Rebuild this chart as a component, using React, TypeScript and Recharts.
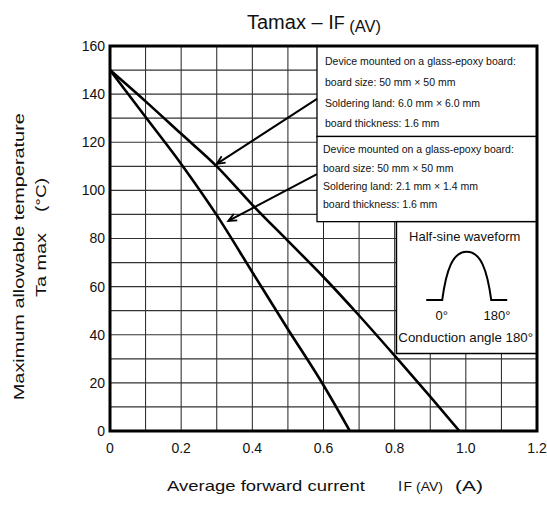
import React from "react";
import {
  LineChart,
  Line,
  XAxis,
  YAxis,
  CartesianGrid,
  ReferenceArea,
  ReferenceLine,
} from "recharts";

// ---- data ----
const currentA = [0, 0.1, 0.2, 0.3, 0.4, 0.5, 0.6, 0.7, 0.8, 0.9, 0.982];
const tempA = [150, 137, 123.5, 110, 94, 79, 64, 48, 31.3, 14.3, 0];
const currentB = [0, 0.1, 0.2, 0.3, 0.4, 0.5, 0.6, 0.674];
const tempB = [150, 130.5, 111, 89.7, 66, 42.3, 19, 0];

const xTicks = [0, 0.1, 0.2, 0.3, 0.4, 0.5, 0.6, 0.7, 0.8, 0.9, 1.0, 1.1, 1.2];
const yTicks = [0, 10, 20, 30, 40, 50, 60, 70, 80, 90, 100, 110, 120, 130, 140, 150, 160];

const noteA = [
  "Device mounted on a glass-epoxy board:",
  "board size: 50 mm \u00d7 50 mm",
  "Soldering land: 6.0 mm \u00d7 6.0 mm",
  "board thickness: 1.6 mm",
];
const noteB = [
  "Device mounted on a glass-epoxy board:",
  "board size: 50 mm \u00d7 50 mm",
  "Soldering land: 2.1 mm \u00d7 1.4 mm",
  "board thickness: 1.6 mm",
];

const seriesA = currentA.map((x, i) => ({ x, y: tempA[i] }));
const seriesB = currentB.map((x, i) => ({ x, y: tempB[i] }));

// annotation anchors (data coordinates)
const box1 = { x1: 0.5817, x2: 1.2, y1: 122.4, y2: 160 };
const box2 = { x1: 0.5817, x2: 1.2, y1: 87.0, y2: 122.4 };
const box3 = { x1: 0.805, x2: 1.2, y1: 32.2, y2: 87.0 };
const arrow1 = [{ x: 0.5817, y: 138 }, { x: 0.3, y: 111 }];
const arrow2 = [{ x: 0.5817, y: 106.8 }, { x: 0.3325, y: 87.3 }];

const FONT = "'Liberation Sans', Arial, Helvetica, sans-serif";

const NoteBox = (lines: string[], dx: number, offsets: number[]) => (props: any) => {
  const { x, y, width, height } = props;
  return (
    <g>
      <rect x={x} y={y} width={width} height={height} fill="#fff" stroke="#000" strokeWidth={1.3} />
      {lines.map((t, i) => (
        <text key={i} x={x + dx} y={y + offsets[i]} fontSize={10.5} fontFamily={FONT} fill="#111">
          {t}
        </text>
      ))}
    </g>
  );
};

const WaveBox = (props: any) => {
  const { x, y, width, height } = props;
  const cx = x + width / 2;
  const base = y + 78.3;
  const peak = y + 30;
  const l = cx - 24.5;
  const r = cx + 24.5;
  const d = `M ${cx - 40.5} ${base} L ${l} ${base} C ${l + 4} ${base - 30}, ${cx - 14} ${peak}, ${cx} ${peak} C ${cx + 14} ${peak}, ${r - 4} ${base - 30}, ${r} ${base} L ${cx + 40.5} ${base}`;
  return (
    <g>
      <rect x={x} y={y} width={width} height={height} fill="#fff" stroke="#000" strokeWidth={1.5} />
      <text x={cx - 2} y={y + 19} textAnchor="middle" fontSize={13} fontFamily={FONT} fill="#111">
        Half-sine waveform
      </text>
      <path d={d} fill="none" stroke="#000" strokeWidth={2} />
      <text x={cx - 25} y={y + 98.3} textAnchor="middle" fontSize={13} fontFamily={FONT} fill="#111">
        0°
      </text>
      <text x={cx + 30.3} y={y + 98.3} textAnchor="middle" fontSize={13} fontFamily={FONT} fill="#111">
        180°
      </text>
      <text x={cx - 1} y={y + 120} textAnchor="middle" fontSize={13.3} fontFamily={FONT} fill="#111">
        Conduction angle 180°
      </text>
    </g>
  );
};

const Arrow = (props: any) => {
  const { x1, y1, x2, y2 } = props;
  const ang = Math.atan2(y1 - y2, x1 - x2);
  const len = 9;
  const spread = 0.42;
  const ax = x2 + len * Math.cos(ang + spread);
  const ay = y2 + len * Math.sin(ang + spread);
  const bx = x2 + len * Math.cos(ang - spread);
  const by = y2 + len * Math.sin(ang - spread);
  return (
    <g>
      <line x1={x1} y1={y1} x2={x2} y2={y2} stroke="#000" strokeWidth={2} />
      <polyline points={`${ax},${ay} ${x2},${y2} ${bx},${by}`} fill="none" stroke="#000" strokeWidth={1.8} />
    </g>
  );
};

const fmtX = (v: number) => {
  const k = Math.round(v * 10);
  if (k % 2 !== 0) return "";
  return k === 0 ? "0" : v.toFixed(1);
};
const fmtY = (v: number) => (Math.round(v) % 20 === 0 ? String(v) : "");

export default function App() {
  return (
    <div style={{ position: "absolute", left: 0, top: 0, width: 547, height: 507, background: "#fff" }}>
      <LineChart
        width={547}
        height={507}
        margin={{ top: 46, right: 10, bottom: 0, left: 0 }}
        style={{ fontFamily: FONT }}
      >
        <CartesianGrid horizontal={false} stroke="#222" strokeWidth={1} />
        <CartesianGrid vertical={false} stroke="#333" strokeWidth={1.2} />
        <XAxis
          type="number"
          dataKey="x"
          domain={[0, 1.2]}
          ticks={xTicks}
          tickFormatter={fmtX}
          interval={0}
          height={76}
          axisLine={false}
          tickLine={false}
          tickSize={6}
          tickMargin={6}
          tick={{ fill: "#111", fontSize: 14, fontFamily: FONT }}
          allowDataOverflow
        />
        <YAxis
          type="number"
          domain={[0, 160]}
          ticks={yTicks}
          tickFormatter={fmtY}
          interval={0}
          width={110}
          axisLine={false}
          tickLine={false}
          tickSize={3}
          tickMargin={2}
          tick={{ fill: "#111", fontSize: 14, fontFamily: FONT }}
          allowDataOverflow
        />
        <ReferenceArea {...box1} shape={NoteBox(noteA, 8, [19, 40, 61, 81])} ifOverflow="visible" />
        <ReferenceArea {...box2} shape={NoteBox(noteB, 6, [16.3, 35.3, 53.7, 72])} ifOverflow="visible" />
        <ReferenceArea {...box3} shape={WaveBox} ifOverflow="visible" />
        <Line
          data={seriesA}
          dataKey="y"
          type="monotone"
          stroke="#000"
          strokeWidth={2.6}
          dot={false}
          isAnimationActive={false}
        />
        <Line
          data={seriesB}
          dataKey="y"
          type="monotone"
          stroke="#000"
          strokeWidth={2.6}
          dot={false}
          isAnimationActive={false}
        />
        <ReferenceLine segment={arrow1} shape={Arrow} ifOverflow="visible" />
        <ReferenceLine segment={arrow2} shape={Arrow} ifOverflow="visible" />
        <ReferenceArea x1={0} x2={1.2} y1={0} y2={160} fill="none" fillOpacity={0} stroke="#000" strokeWidth={3} ifOverflow="visible" />
      </LineChart>
      <svg
        width={547}
        height={507}
        style={{ position: "absolute", left: 0, top: 0, pointerEvents: "none" }}
      >
        <text x={247} y={28.5} fontSize={20} fontFamily={FONT} fill="#111">
          Tamax – I<tspan fontSize={18}>F</tspan>
          <tspan fontSize={16.5} dy={3.5}> (AV)</tspan>
        </text>
        <text x={167} y={491} fontSize={15} fontFamily={FONT} fill="#111" textLength={198} lengthAdjust="spacingAndGlyphs">
          Average forward current
        </text>
        <text x={398} y={491} fontSize={15} fontFamily={FONT} fill="#111">
          I
        </text>
        <text x={403.5} y={491} fontSize={13} fontFamily={FONT} fill="#111" textLength={39.5} lengthAdjust="spacingAndGlyphs">
          F (AV)
        </text>
        <text x={455} y={491} fontSize={15} fontFamily={FONT} fill="#111" textLength={28} lengthAdjust="spacingAndGlyphs">
          (A)
        </text>
        <text
          x={24}
          y={256.7}
          transform="rotate(-90, 24, 256.7)"
          textAnchor="middle"
          fontSize={14}
          fontFamily={FONT}
          fill="#111"
          textLength={287}
          lengthAdjust="spacingAndGlyphs"
        >
          Maximum allowable temperature
        </text>
        <text
          x={46}
          y={265}
          transform="rotate(-90, 46, 265)"
          textAnchor="middle"
          fontSize={14}
          fontFamily={FONT}
          fill="#111"
          textLength={64}
          lengthAdjust="spacingAndGlyphs"
        >
          Ta max
        </text>
        <text
          x={46}
          y={195}
          transform="rotate(-90, 46, 195)"
          textAnchor="middle"
          fontSize={14}
          fontFamily={FONT}
          fill="#111"
          textLength={34}
          lengthAdjust="spacingAndGlyphs"
        >
          (°C)
        </text>
      </svg>
    </div>
  );
}
